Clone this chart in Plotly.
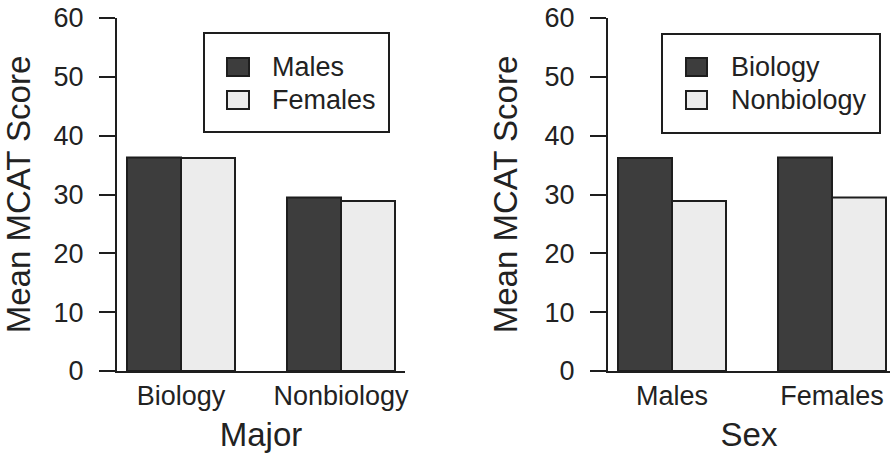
import plotly.graph_objects as go

# ---- data ----
majors = ["Biology", "Nonbiology"]
sexes = ["Males", "Females"]
# left panel: by major, series = sex
males_by_major = [36.3, 29.5]
females_by_major = [36.2, 28.9]
# right panel: by sex, series = major
biology_by_sex = [36.2, 36.3]
nonbiology_by_sex = [28.9, 29.5]
y_ticks = [0, 10, 20, 30, 40, 50, 60]

DARK = "#3d3d3d"
LIGHT = "#ececec"
EDGE = "#1e1e1e"
TXT = "#222222"
FONT = "Liberation Sans, Arial, sans-serif"

W, H = 890, 457


def px(x):
    return x / W


def py(y):
    return 1 - y / H


fig = go.Figure()

fig.add_trace(go.Bar(x=majors, y=males_by_major, name="Males", xaxis="x", yaxis="y",
                     marker=dict(color=DARK, line=dict(color=EDGE, width=2)), showlegend=False))
fig.add_trace(go.Bar(x=majors, y=females_by_major, name="Females", xaxis="x", yaxis="y",
                     marker=dict(color=LIGHT, line=dict(color=EDGE, width=2)), showlegend=False))
fig.add_trace(go.Bar(x=sexes, y=biology_by_sex, name="Biology", xaxis="x2", yaxis="y2",
                     marker=dict(color=DARK, line=dict(color=EDGE, width=2)), showlegend=False))
fig.add_trace(go.Bar(x=sexes, y=nonbiology_by_sex, name="Nonbiology", xaxis="x2", yaxis="y2",
                     marker=dict(color=LIGHT, line=dict(color=EDGE, width=2)), showlegend=False))

ydom = [86 / H, 439 / H]

xcommon = dict(showline=True, linecolor=EDGE, linewidth=2, ticks="", showgrid=False,
               zeroline=False, automargin=False,
               tickfont=dict(size=27, color=TXT, family=FONT),
               ticklabelstandoff=0)
ycommon = dict(showline=True, linecolor=EDGE, linewidth=2, ticks="outside", ticklen=16,
               tickwidth=2, tickcolor=EDGE, showgrid=False, zeroline=False, automargin=False,
               range=[0, 60], tickvals=y_ticks, domain=ydom,
               tickfont=dict(size=27, color=TXT, family=FONT), ticklabelstandoff=10,
               title=dict(text="Mean MCAT Score", font=dict(size=33, color=TXT, family=FONT),
                          standoff=17))

fig.update_layout(
    width=W, height=H,
    template="none",
    margin=dict(l=0, r=0, t=0, b=0),
    paper_bgcolor="white", plot_bgcolor="white",
    barmode="group", bargap=0.325, bargroupgap=0,
    font=dict(family=FONT, color=TXT),
    xaxis=dict(xcommon, domain=[px(117), px(405)], range=[-0.4, 1.4], anchor="y",
               title=dict(text="Major", font=dict(size=33, color=TXT, family=FONT), standoff=12)),
    yaxis=dict(ycommon, anchor="x"),
    xaxis2=dict(xcommon, domain=[px(608), 1.0], range=[-0.4, 1.3625], anchor="y2",
                title=dict(text="Sex", font=dict(size=33, color=TXT, family=FONT), standoff=12)),
    yaxis2=dict(ycommon, anchor="x2"),
)

# ---- manual legends (box, swatches, labels) ----
def add_legend(box, sw_x, txt_x, labels, colors):
    x0, y0, x1, y1 = box
    fig.add_shape(type="rect", xref="paper", yref="paper", x0=px(x0), x1=px(x1),
                  y0=py(y1), y1=py(y0), line=dict(color=EDGE, width=2), fillcolor="rgba(0,0,0,0)")
    rows = [(58, 76), (91, 109)]
    for (t, b), lab, col in zip(rows, labels, colors):
        fig.add_shape(type="rect", xref="paper", yref="paper", x0=px(sw_x[0]), x1=px(sw_x[1]),
                      y0=py(b), y1=py(t), line=dict(color=EDGE, width=2), fillcolor=col)
        fig.add_annotation(xref="paper", yref="paper", x=px(txt_x), y=py((t + b) / 2),
                           xanchor="left", yanchor="middle", text=lab, showarrow=False,
                           font=dict(size=27, color=TXT, family=FONT))


add_legend((204, 33, 389, 132), (227, 249), 270, sexes, [DARK, LIGHT])
add_legend((662, 34, 880, 133), (686, 707), 729, majors, [DARK, LIGHT])

fig.write_html("out.html")
